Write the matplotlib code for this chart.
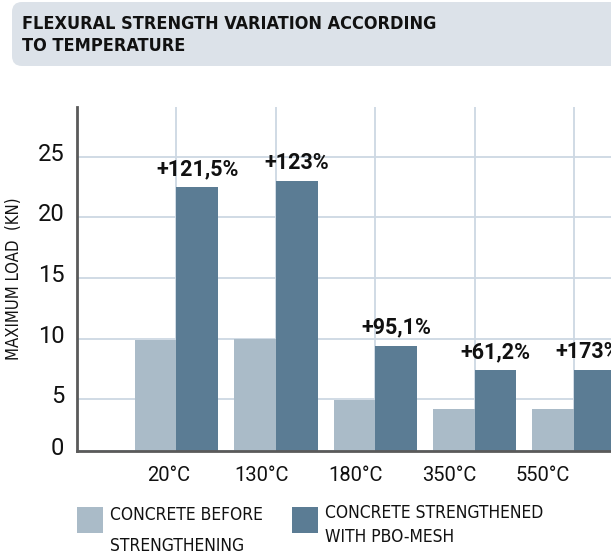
import numpy as np
import matplotlib
matplotlib.use("Agg")
import matplotlib.pyplot as plt
from matplotlib.patches import FancyBboxPatch, Rectangle
from matplotlib.transforms import ScaledTranslation

# data
temps = ["20°C", "130°C", "180°C", "350°C", "550°C"]
before = [9.9, 10.0, 4.9, 4.2, 4.2]
after = [22.5, 23.0, 9.4, 7.4, 7.4]
gains = ["+121,5%", "+123%", "+95,1%", "+61,2%", "+173%"]
ytick_vals = [5, 10, 15, 20, 25]

LIGHT = "#aabbc8"
DARK = "#5b7c94"
GRID = "#cdd8e3"
TXT = "#111111"

plt.rcParams['font.family'] = ['Roboto', 'DejaVu Sans']
NARROW = dict(family=["DejaVu Sans"], fontstretch="condensed")

fig = plt.figure(figsize=(6.11, 5.56), dpi=100)
ax = fig.add_axes([0.126, 0.1894, 0.895, 0.618])

x = np.arange(len(temps))
w = 0.42
ax.bar(x - w / 2, before, w, color=LIGHT, zorder=2)
ax.bar(x + w / 2, after, w, color=DARK, zorder=2)

for i in range(len(x)):
    # last label is pushed a bit left, it runs into the right edge
    dx = -5 if i == len(x) - 1 else 0
    ax.annotate(gains[i], (x[i] + w / 2, after[i]), xytext=(dx, 13),
                textcoords="offset points", ha="center", va="center",
                fontsize=15.5, fontweight="bold", color=TXT)

ax.set_xlim(-1, 4.5)
y0 = 0.74
ax.set_ylim(y0, 29.1)

# gridlines at group centres, labels sit slightly off them
ax.set_xticks(x)
ax.set_xticklabels([""] * len(x))
ax.set_xticks(x * 0.94 - 0.08, minor=True)
ax.set_xticklabels(temps, minor=True, fontsize=14.5, color=TXT)
ax.tick_params(axis="x", which="both", length=0, pad=11)

ax.set_yticks([y0] + ytick_vals)
ax.set_yticklabels(["0"] + [str(v) for v in ytick_vals], fontsize=17, color=TXT)
ax.tick_params(axis="y", length=0, pad=9)
for lbl in ax.get_yticklabels():
    lbl.set_transform(lbl.get_transform() + ScaledTranslation(0, 5 / 100, fig.dpi_scale_trans))

ax.grid(True, which="major", color=GRID, linewidth=1.3)
ax.set_axisbelow(True)
for s in ["top", "right"]:
    ax.spines[s].set_visible(False)
for s in ["left", "bottom"]:
    ax.spines[s].set_color("#5a5a5a")
    ax.spines[s].set_linewidth(2)

ax.set_ylabel("MAXIMUM LOAD  (KN)", fontsize=12, color=TXT, **NARROW)
ax.yaxis.set_label_coords(-0.098, 0.5)

# title box
box = FancyBboxPatch((0.12, 4.90), 6.2, 0.64, boxstyle="round,pad=0,rounding_size=0.1",
                     transform=fig.dpi_scale_trans, facecolor="#dce2e9", edgecolor="none")
fig.patches.append(box)
fig.text(0.22 / 6.11, 5.21 / 5.56, "FLEXURAL STRENGTH VARIATION ACCORDING\nTO TEMPERATURE",
         fontsize=13, fontweight="bold", color=TXT, va="center", ha="left",
         linespacing=1.3, **NARROW)

# legend
fig.patches.append(Rectangle((0.77, 0.23), 0.26, 0.26, transform=fig.dpi_scale_trans,
                             facecolor=LIGHT, edgecolor="none"))
fig.patches.append(Rectangle((2.92, 0.23), 0.26, 0.26, transform=fig.dpi_scale_trans,
                             facecolor=DARK, edgecolor="none"))
leg_kw = dict(fontsize=12.5, color=TXT, va="center", **NARROW)
fig.text(1.10 / 6.11, (556 - 515) / 556, "CONCRETE BEFORE", **leg_kw)
fig.text(1.10 / 6.11, (556 - 546) / 556, "STRENGTHENING", **leg_kw)
fig.text(3.25 / 6.11, (556 - 513) / 556, "CONCRETE STRENGTHENED", **leg_kw)
fig.text(3.25 / 6.11, (556 - 537) / 556, "WITH PBO-MESH", **leg_kw)

fig.savefig("out.png", dpi=100)
